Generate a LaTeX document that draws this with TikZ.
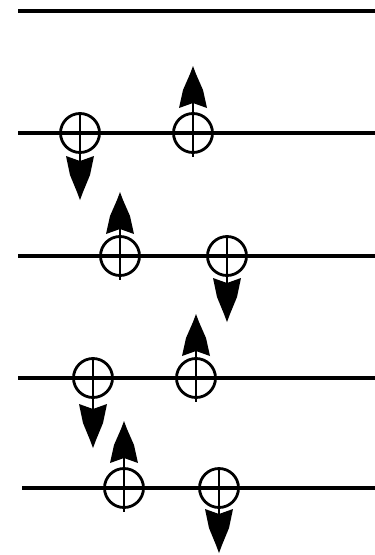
\documentclass[tikz,border=0pt]{standalone}
\begin{document}
\begin{tikzpicture}[x=1pt,y=-1pt,
  level/.style={line width=4pt},
  spin/.style={circle,draw,line width=2.8pt,minimum size=39pt,inner sep=0pt,
    path picture={\draw[line width=2.8pt] (path picture bounding box.north) -- (path picture bounding box.south);}},
  shaft/.style={line width=2.8pt,shorten >=20pt},
  downhead/.pic={\fill (0,0) -- (-3,-8) -- (-10,-25) -- (-14,-44) -- (0,-39) -- (14,-44) -- (10,-25) -- (3,-8) -- cycle;},
  uphead/.pic={\fill (0,0) -- (-3,8) -- (-10,24) -- (-14,42) -- (0,37) -- (14,42) -- (10,24) -- (3,8) -- cycle;}]
\useasboundingbox (0,0) rectangle (375,555);
% levels
\coordinate (l0a) at (18,11);  \coordinate (l0b) at (375,11);
\coordinate (l1a) at (18,133); \coordinate (l1b) at (375,133);
\coordinate (l2a) at (18,256); \coordinate (l2b) at (375,256);
\coordinate (l3a) at (18,378); \coordinate (l3b) at (375,378);
\coordinate (l4a) at (22,488); \coordinate (l4b) at (375,488);
\draw[level] (l0a) -- (l0b);
\draw[level] (l1a) -- (l1b);
\draw[level] (l2a) -- (l2b);
\draw[level] (l3a) -- (l3b);
\draw[level] (l4a) -- (l4b);
% spins
\node[spin] (c11) at (80,133) {};
\node[spin] (c12) at (193,133) {};
\node[spin] (c21) at (120,256) {};
\node[spin] (c22) at (227,256) {};
\node[spin] (c31) at (93,378) {};
\node[spin] (c32) at (196,378) {};
\node[spin] (c41) at (124,488) {};
\node[spin] (c42) at (219,488) {};
% arrow tips
\coordinate (t11) at (80,200);
\coordinate (t12) at (193,66);
\coordinate (t21) at (120,192);
\coordinate (t22) at (227,322);
\coordinate (t31) at (93,448);
\coordinate (t32) at (196,314);
\coordinate (t41) at (124,421);
\coordinate (t42) at (219,553);
% shafts
\draw[shaft] (c11.south) -- (t11);
\draw[shaft] (c12.south) ++(0,3) -- (t12);
\draw[shaft] (c21.south) ++(0,3) -- (t21);
\draw[shaft] (c22.south) -- (t22);
\draw[shaft] (c31.south) -- (t31);
\draw[shaft] (c32.south) ++(0,3) -- (t32);
\draw[shaft] (c41.south) ++(0,3) -- (t41);
\draw[shaft] (c42.south) -- (t42);
% heads
\pic at (t11) {downhead};
\pic at (t22) {downhead};
\pic at (t31) {downhead};
\pic at (t42) {downhead};
\pic at (t12) {uphead};
\pic at (t21) {uphead};
\pic at (t32) {uphead};
\pic at (t41) {uphead};
\end{tikzpicture}
\end{document}
